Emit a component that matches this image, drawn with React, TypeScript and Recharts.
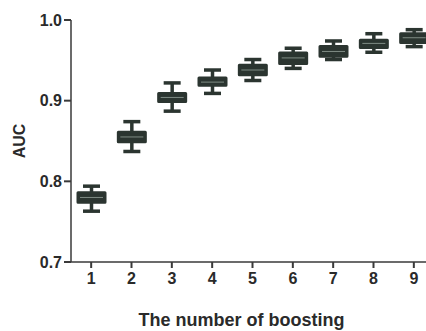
import React from "react";
import { ComposedChart, Bar, XAxis, YAxis, Label } from "recharts";

const categories = ["1", "2", "3", "4", "5", "6", "7", "8", "9"];
const minValues = [0.763, 0.837, 0.887, 0.909, 0.925, 0.94, 0.951, 0.96, 0.967];
const q1Values = [0.774, 0.849, 0.899, 0.919, 0.932, 0.946, 0.955, 0.966, 0.972];
const medianValues = [0.78, 0.855, 0.904, 0.923, 0.938, 0.953, 0.961, 0.971, 0.978];
const q3Values = [0.786, 0.861, 0.909, 0.928, 0.944, 0.959, 0.967, 0.975, 0.983];
const maxValues = [0.794, 0.874, 0.922, 0.938, 0.951, 0.965, 0.974, 0.983, 0.988];
const yTicks = [0.7, 0.8, 0.9, 1.0];

const data = categories.map((c, i) => ({
  name: c,
  range: [minValues[i], maxValues[i]],
  min: minValues[i],
  q1: q1Values[i],
  median: medianValues[i],
  q3: q3Values[i],
  max: maxValues[i],
}));

const BOX = "#2b3530";

const BoxShape = (props: any) => {
  const { x, y, width, height, payload } = props;
  const top = Math.min(y, y + height);
  const h = Math.abs(height);
  const span = payload.max - payload.min;
  const k = span > 0 ? h / span : 0;
  const py = (v: number) => top + (payload.max - v) * k;
  const cx = x + width / 2;
  const capW = 17;
  return (
    <g>
      <line x1={cx} x2={cx} y1={py(payload.max)} y2={py(payload.min)} stroke={BOX} strokeWidth={3.5} />
      <line x1={cx - capW / 2} x2={cx + capW / 2} y1={py(payload.max)} y2={py(payload.max)} stroke={BOX} strokeWidth={3.5} />
      <line x1={cx - capW / 2} x2={cx + capW / 2} y1={py(payload.min)} y2={py(payload.min)} stroke={BOX} strokeWidth={3.5} />
      <rect
        x={x + 1}
        y={py(payload.q3)}
        width={width - 2}
        height={py(payload.q1) - py(payload.q3)}
        fill={BOX}
        stroke={BOX}
        strokeWidth={3}
        strokeLinejoin="round"
      />
      <line x1={x + 3} x2={x + width - 3} y1={py(payload.median)} y2={py(payload.median)} stroke="#7f8c84" strokeWidth={1} />
    </g>
  );
};

const tickStyle = { fontSize: 16, fill: "#2a2a2a", fontFamily: "Liberation Sans, Arial, sans-serif", fontWeight: 700 };

export default function App() {
  return (
    <div style={{ position: "absolute", left: 0, top: 0, width: 426, height: 331, overflow: "hidden", background: "#fff" }}>
      <ComposedChart width={440} height={331} data={data} margin={{ top: 20, right: 6, bottom: 0, left: 0 }}>
        <XAxis
          dataKey="name"
          height={69}
          tick={tickStyle}
          tickSize={6}
          tickMargin={5}
          stroke="#3a3a3a"
          strokeWidth={1.5}
          tickLine={{ stroke: "#3a3a3a", strokeWidth: 2 }}
        >
          <Label
            content={(p: any) => {
              const vb = p.viewBox;
              return (
                <text
                  x={vb.x + vb.width / 2 - 11}
                  y={326}
                  textAnchor="middle"
                  fontSize={18}
                  fontWeight={700}
                  fill="#2a2a2a"
                  fontFamily="Liberation Sans, Arial, sans-serif"
                >
                  The number of boosting
                </text>
              );
            }}
          />
        </XAxis>
        <YAxis
          width={71}
          domain={[0.7, 1.0]}
          ticks={yTicks}
          tickFormatter={(v: number) => v.toFixed(1)}
          tick={tickStyle}
          tickSize={7}
          tickMargin={2}
          stroke="#3a3a3a"
          strokeWidth={1.5}
          tickLine={{ stroke: "#3a3a3a", strokeWidth: 2 }}
          allowDataOverflow
        >
          <Label
            content={(p: any) => {
              const vb = p.viewBox;
              const cy = vb.y + vb.height / 2;
              return (
                <text
                  x={19}
                  y={cy}
                  transform={`rotate(-90, 19, ${cy})`}
                  textAnchor="middle"
                  dominantBaseline="central"
                  fontSize={16}
                  fontWeight={700}
                  fill="#2a2a2a"
                  fontFamily="Liberation Sans, Arial, sans-serif"
                >
                  AUC
                </text>
              );
            }}
          />
        </YAxis>
        <Bar dataKey="range" barSize={29} shape={<BoxShape />} isAnimationActive={false} />
      </ComposedChart>
    </div>
  );
}
